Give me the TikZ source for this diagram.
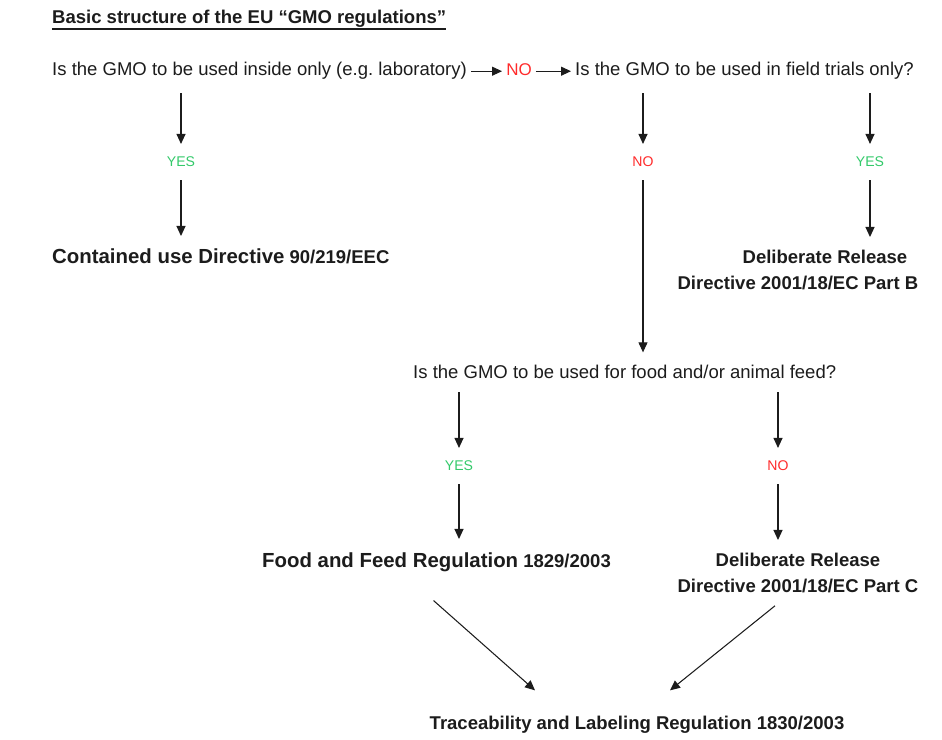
\documentclass[tikz,border=0pt]{standalone}
\usepackage{fontspec}
\setmainfont{Liberation Sans}
\usetikzlibrary{arrows.meta, calc}
\definecolor{gmored}{HTML}{FF2B2B}
\definecolor{gmogreen}{HTML}{33C96A}
\definecolor{gmotext}{HTML}{1C1C1C}
\newcommand{\regname}[1]{{\fontsize{17.4}{20}\selectfont #1}}
\frenchspacing

\begin{document}
\begin{tikzpicture}[
  x=0.03cm, y=-0.03cm,
  every node/.style={text=gmotext, inner xsep=0.12cm, inner ysep=0.39cm},
  qtext/.style={font=\fontsize{15.8}{19}\selectfont},
  ans/.style={font=\fontsize{12}{14}\selectfont},
  res/.style={font=\fontsize{15.8}{21.8}\selectfont\bfseries, align=center},
  arr/.style={-{Triangle[length=0.3cm, width=0.27cm]}, line width=0.9pt, draw=gmotext},
]
\useasboundingbox (0,0) rectangle (942,740);

% Title
\node[res, anchor=base west] (title) at (48,24) {Basic structure of the EU “GMO regulations”};
\draw[line width=1.6pt, gmotext] ($(title.base west)+(4,5)$) -- ($(title.base east)+(-4,5)$);

% First questions
\node[qtext, anchor=base west] (q1) at (48,76) {Is the GMO to be used inside only (e.g. laboratory)};
\node[font=\fontsize{14.5}{17}\selectfont, text=gmored, anchor=base] (no0) at (519,76) {NO};
\node[qtext, anchor=base west] (q2) at (571,76) {Is the GMO to be used in field trials only?};

% Answers
\node[ans, text=gmogreen, anchor=base] (yes1) at (181,167) {YES};
\node[ans, text=gmored, anchor=base] (no1) at (643,167) {NO};
\node[ans, text=gmogreen, anchor=base] (yes2) at (870,167) {YES};

% Regulations, first level
\node[res, anchor=base west] (contained) at (48,264) {\regname{Contained use Directive} 90/219/EEC};
\node[res, anchor=north] (partB) at (798,237) {\hspace*{1.62cm}Deliberate Release\\Directive 2001/18/EC Part B};

% Food question
\node[qtext, anchor=base west] (q3) at (409,379) {Is the GMO to be used for food and/or animal feed?};
\node[ans, text=gmogreen, anchor=base] (yes3) at (459,471) {YES};
\node[ans, text=gmored, anchor=base] (no3) at (778,471) {NO};

% Regulations, second level
\node[res, anchor=base west] (food) at (258,567) {\regname{Food and Feed Regulation} 1829/2003};
\node[res, anchor=north] (partC) at (798,540) {Deliberate Release\\Directive 2001/18/EC Part C};
\node[res, anchor=base] (trace) at (637,729) {Traceability and Labeling Regulation 1830/2003};

% Connections
\draw[arr] (q1.east) -- (q1.east -| no0.west);
\draw[arr] (no0.east |- q1.east) -- (q1.east -| q2.west);
\draw[arr] (q1.south -| yes1) -- (yes1);
\draw[arr] (yes1) -- (yes1 |- contained.north);
\draw[arr] (q2.south -| no1) -- (no1);
\draw[arr] (no1) -- (no1 |- q3.north);
\draw[arr] (q2.south -| yes2) -- (yes2);
\draw[arr] (yes2) -- (yes2 |- partB.north);
\draw[arr] (q3.south -| yes3) -- (yes3);
\draw[arr] (yes3) -- (yes3 |- food.north);
\draw[arr] (q3.south -| no3) -- (no3);
\draw[arr] (no3) -- (no3 |- partC.north);
\draw[arr] ($(food.south)+(-3,16)$) -- ($(trace.north)+(-102,-12)$);
\draw[arr] ($(partC.south)+(-23,0)$) -- ($(trace.north)+(33,-12)$);

\end{tikzpicture}
\end{document}
